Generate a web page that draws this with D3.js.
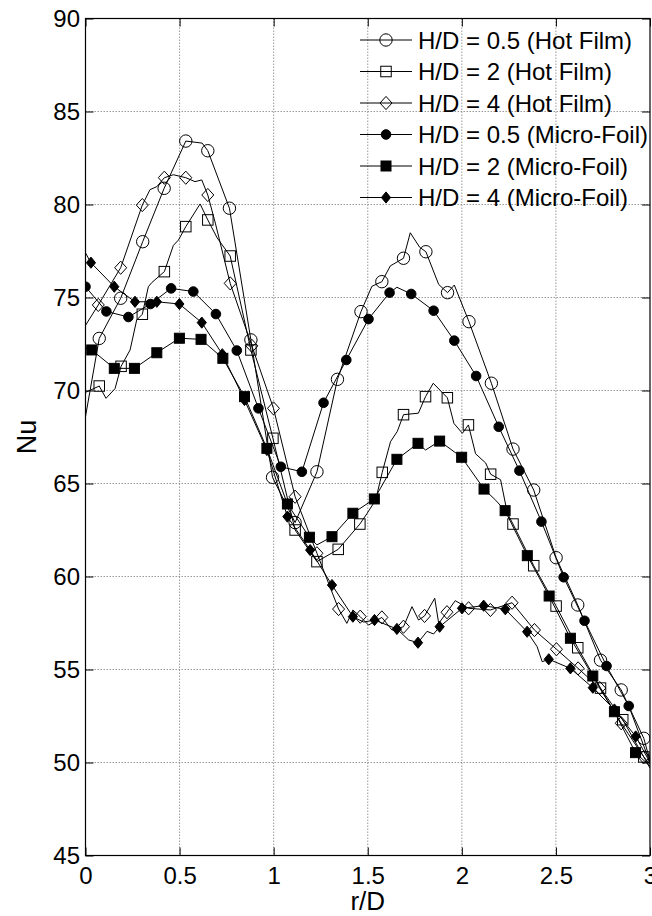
<!DOCTYPE html>
<html><head><meta charset="utf-8">
<script src="https://cdn.jsdelivr.net/npm/d3@7"></script>
<style>html,body{margin:0;padding:0;background:#fff;}svg{display:block;font-family:"Liberation Sans",Arial,sans-serif;}</style>
</head><body><svg id="c" width="652" height="916"></svg>
<script>
// x ticks and y ticks
const xTicks = [0, 0.5, 1, 1.5, 2, 2.5, 3];
const xTickLabels = ["0", "0.5", "1", "1.5", "2", "2.5", "3"];
const yTicks = [45, 50, 55, 60, 65, 70, 75, 80, 85, 90];
const yTickLabels = ["45", "50", "55", "60", "65", "70", "75", "80", "85", "90"];
const seriesNames = ["H/D = 0.5 (Hot Film)", "H/D = 2 (Hot Film)", "H/D = 4 (Hot Film)",
  "H/D = 0.5 (Micro-Foil)", "H/D = 2 (Micro-Foil)", "H/D = 4 (Micro-Foil)"];
// rows: [r/D, Nu, marker shown (1) or line vertex only (0)]
const hotFilm05 = [[0,68.6,0],[0.073,72.8,1],[0.187,74.96,1],[0.304,78.0,1],[0.418,80.87,1],[0.533,83.41,1],[0.62,83.3,0],[0.650,82.89,1],[0.765,79.8,1],[0.879,72.72,1],[0.994,65.33,1],[1.114,62.9,1],[1.23,65.63,1],[1.339,70.6,1],[1.464,74.24,1],[1.522,75.6,0],[1.575,75.85,1],[1.62,76.7,0],[1.69,77.11,1],[1.726,78.48,0],[1.776,77.7,0],[1.809,77.46,1],[1.877,75.7,0],[1.924,75.26,1],[1.96,75.67,0],[2.038,73.7,1],[2.157,70.39,1],[2.272,66.85,1],[2.382,64.65,1],[2.501,61.01,1],[2.616,58.47,1],[2.737,55.5,1],[2.847,53.9,1],[2.967,51.3,1],[3.0,50.1,0]];
const hotFilm2 = [[0,69.9,0],[0.073,70.24,1],[0.109,69.58,0],[0.157,70.1,0],[0.189,71.3,1],[0.237,72.18,0],[0.272,73.79,0],[0.302,74.1,1],[0.334,75.58,0],[0.352,75.8,0],[0.419,76.39,1],[0.467,77.8,0],[0.494,78.09,0],[0.533,78.81,1],[0.609,80.03,0],[0.650,79.17,1],[0.70,78.2,0],[0.769,77.23,1],[0.879,72.18,1],[0.996,67.43,1],[1.114,62.5,1],[1.23,60.8,1],[1.343,61.46,1],[1.458,62.82,1],[1.497,63.4,0],[1.542,64.11,0],[1.577,65.6,1],[1.621,67.25,0],[1.657,67.8,0],[1.69,68.7,1],[1.769,68.78,0],[1.807,69.67,1],[1.848,70.39,0],[1.923,69.61,1],[1.958,68.23,0],[2.003,67.7,0],[2.035,68.15,1],[2.073,66.6,0],[2.127,66.1,0],[2.153,65.5,1],[2.206,65.2,0],[2.242,63.4,0],[2.272,62.82,1],[2.382,60.58,1],[2.501,58.41,1],[2.616,56.17,1],[2.737,54.0,1],[2.855,52.3,1],[2.967,50.3,1],[3.0,49.9,0]];
const hotFilm4 = [[0,73.5,0],[0.068,74.6,1],[0.187,76.6,1],[0.302,79.97,1],[0.343,80.8,0],[0.379,80.96,0],[0.419,81.44,1],[0.467,81.6,0],[0.533,81.44,1],[0.582,81.23,0],[0.618,81.32,0],[0.650,80.51,1],[0.69,79.0,0],[0.769,75.76,1],[0.884,72.4,1],[0.999,69.04,1],[1.114,64.29,1],[1.23,61.25,1],[1.345,58.25,1],[1.389,57.48,0],[1.421,58.2,0],[1.46,57.84,1],[1.504,57.39,0],[1.575,57.8,1],[1.629,57.12,0],[1.69,57.3,1],[1.735,58.38,0],[1.77,57.66,0],[1.802,57.88,1],[1.856,58.83,0],[1.877,57.48,0],[1.921,58.08,1],[1.965,58.7,0],[2.036,58.29,1],[2.152,58.2,1],[2.267,58.59,1],[2.386,57.12,1],[2.503,56.09,1],[2.618,55.06,1],[2.733,54.0,1],[2.847,52.11,1],[2.967,50.3,1],[3.0,49.7,0]];
const microFoil05 = [[0,75.58,1],[0.111,74.25,1],[0.228,73.95,1],[0.345,74.65,1],[0.455,75.49,1],[0.573,75.32,1],[0.693,74.11,1],[0.804,72.15,1],[0.919,69.04,1],[1.038,65.9,1],[1.15,65.63,1],[1.265,69.34,1],[1.386,71.64,1],[1.504,73.84,1],[1.616,75.26,1],[1.655,75.55,0],[1.731,75.19,1],[1.85,74.29,1],[1.96,72.68,1],[2.076,70.78,1],[2.196,68.05,1],[2.306,65.69,1],[2.423,62.95,1],[2.541,59.96,1],[2.652,57.62,1],[2.769,55.19,1],[2.887,53.04,1],[3.0,50.0,0]];
const microFoil2 = [[0,72.3,0],[0.033,72.18,1],[0.153,71.19,1],[0.26,71.19,1],[0.379,72.03,1],[0.499,72.81,1],[0.614,72.75,1],[0.73,71.73,1],[0.845,69.67,1],[0.964,66.89,1],[1.073,63.9,1],[1.19,62.11,1],[1.23,61.7,0],[1.31,62.14,1],[1.421,63.4,1],[1.535,64.17,1],[1.655,66.3,1],[1.767,67.16,1],[1.807,66.8,0],[1.882,67.28,1],[1.999,66.41,1],[2.118,64.7,1],[2.18,64.1,0],[2.23,63.54,1],[2.348,61.12,1],[2.464,58.95,1],[2.577,56.68,1],[2.696,54.65,1],[2.811,52.73,1],[2.923,50.53,1],[3.0,49.8,0]];
const microFoil4 = [[0,77.4,0],[0.029,76.87,1],[0.153,75.58,1],[0.263,74.77,1],[0.379,74.77,1],[0.499,74.65,1],[0.618,73.65,1],[0.727,71.95,1],[0.845,69.49,1],[0.964,66.8,1],[1.073,63.22,1],[1.194,61.42,1],[1.31,59.54,1],[1.421,57.84,1],[1.478,57.55,0],[1.536,57.66,1],[1.655,57.18,1],[1.717,56.59,0],[1.767,56.44,1],[1.815,57.05,0],[1.85,56.91,0],[1.882,57.3,1],[2.001,58.29,1],[2.116,58.43,1],[2.231,58.24,1],[2.347,57.03,1],[2.4,56.23,0],[2.427,55.42,0],[2.462,55.55,1],[2.577,55.06,1],[2.696,54.02,1],[2.811,52.85,1],[2.924,51.4,1],[3.0,50.0,0]];

const seriesData = [hotFilm05, hotFilm2, hotFilm4, microFoil05, microFoil2, microFoil4];
const seriesMarkers = ["circleOpen", "squareOpen", "diamondOpen", "circleFilled", "squareFilled", "diamondFilled"];

const L = 85.5, R = 650, T = 18.5, B = 855.5;
const svg = d3.select("#c");
const x = d3.scaleLinear().domain([0, 3]).range([L, R]);
const y = d3.scaleLinear().domain([45, 90]).range([B, T]);

// grid
const grid = svg.append("g");
grid.selectAll("line.gx").data(xTicks.slice(1, -1)).enter().append("line")
  .attr("x1", d => x(d)).attr("x2", d => x(d)).attr("y1", T).attr("y2", B)
  .attr("stroke", "#808080").attr("stroke-width", 0.8).attr("stroke-dasharray", "1.5,1.5");
grid.selectAll("line.gy").data(yTicks.slice(1, -1)).enter().append("line")
  .attr("y1", d => y(d)).attr("y2", d => y(d)).attr("x1", L).attr("x2", R)
  .attr("stroke", "#808080").attr("stroke-width", 0.8).attr("stroke-dasharray", "1.5,1.5");

// axes
function styleAxis(g) {
  g.select(".domain").remove();
  g.selectAll(".tick line").attr("stroke", "#000").attr("stroke-width", 1);
  g.selectAll(".tick text").attr("fill", "#000").attr("font-size", 24)
    .attr("font-family", "'Liberation Sans', Arial, sans-serif");
}
svg.append("g").attr("transform", `translate(0,${B})`)
  .call(d3.axisBottom(x).tickValues(xTicks).tickFormat((d, i) => xTickLabels[i]).tickSizeInner(-8).tickSizeOuter(0).tickPadding(11))
  .call(styleAxis);
svg.append("g").attr("transform", `translate(${L},0)`)
  .call(d3.axisLeft(y).tickValues(yTicks).tickFormat((d, i) => yTickLabels[i]).tickSizeInner(-8).tickSizeOuter(0).tickPadding(5.5))
  .call(styleAxis);
svg.append("g").attr("transform", `translate(0,${T})`)
  .call(d3.axisTop(x).tickValues(xTicks).tickFormat("").tickSizeInner(-8).tickSizeOuter(0))
  .call(styleAxis);
svg.append("g").attr("transform", `translate(${R},0)`)
  .call(d3.axisRight(y).tickValues(yTicks).tickFormat("").tickSizeInner(-8).tickSizeOuter(0))
  .call(styleAxis);

svg.append("rect").attr("x", L).attr("y", T).attr("width", R - L).attr("height", B - T)
  .attr("fill", "none").attr("stroke", "#000").attr("stroke-width", 1.2);

// marker drawing
function drawMarker(g, type, cx, cy) {
  const filled = type.endsWith("Filled");
  let el;
  if (type.startsWith("circle")) {
    el = g.append("circle").attr("cx", cx).attr("cy", cy).attr("r", filled ? 4.8 : 6.2);
  } else if (type.startsWith("square")) {
    const s = filled ? 10 : 10.5;
    el = g.append("rect").attr("x", cx - s / 2).attr("y", cy - s / 2).attr("width", s).attr("height", s);
  } else {
    const hw = filled ? 4.6 : 6, hh = filled ? 5.6 : 6.6;
    el = g.append("path").attr("d", `M${cx},${cy - hh}L${cx + hw},${cy}L${cx},${cy + hh}L${cx - hw},${cy}Z`);
  }
  el.attr("fill", filled ? "#000" : "none").attr("stroke", "#000").attr("stroke-width", 1);
}

svg.append("clipPath").attr("id", "clip").append("rect")
  .attr("x", L).attr("y", T).attr("width", R - L).attr("height", B - T);
const plot = svg.append("g").attr("clip-path", "url(#clip)");
const line = d3.line().x(d => x(d[0])).y(d => y(d[1]));

seriesData.forEach((data, i) => {
  const g = plot.append("g");
  g.append("path").datum(data).attr("d", line).attr("fill", "none").attr("stroke", "#000").attr("stroke-width", 1);
  data.filter(d => d[2] === 1).forEach(d => drawMarker(g, seriesMarkers[i], x(d[0]), y(d[1])));
});

// legend
const leg = svg.append("g");
seriesNames.forEach((name, i) => {
  const cy = 40 + i * 31.5;
  leg.append("line").attr("x1", 360).attr("x2", 412).attr("y1", cy).attr("y2", cy)
    .attr("stroke", "#000").attr("stroke-width", 1);
  drawMarker(leg, seriesMarkers[i], 386, cy);
  leg.append("text").attr("x", 418).attr("y", cy + 8.6).attr("font-size", 24).attr("fill", "#000").text(name);
});

// axis labels
svg.append("text").attr("x", (L + R) / 2).attr("y", 910).attr("text-anchor", "middle")
  .attr("font-size", 26).attr("fill", "#000").text("r/D");
svg.append("text").attr("transform", `translate(36,${(T + B) / 2}) rotate(-90)`).attr("text-anchor", "middle")
  .attr("font-size", 27).attr("fill", "#000").text("Nu");
</script></body></html>
